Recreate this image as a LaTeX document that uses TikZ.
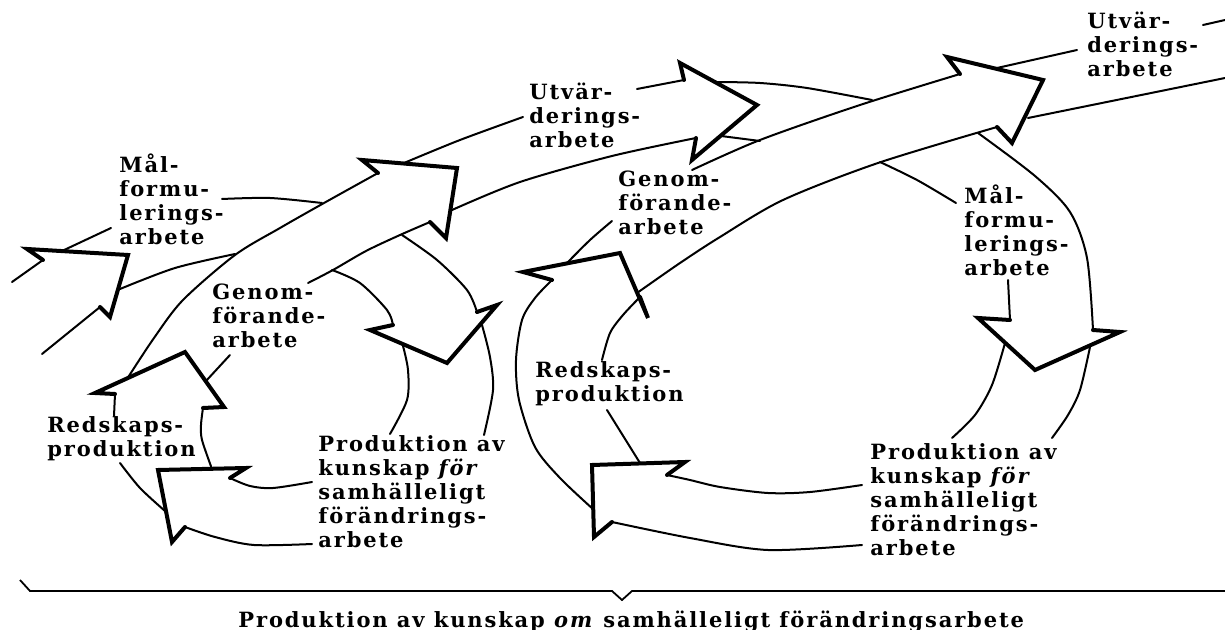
\documentclass[tikz,border=0pt]{standalone}
\usepackage{fontspec}
\newfontfamily\lblfam{DejaVu Serif}[LetterSpace=9]
\newcommand{\lblfont}{\lblfam\bfseries\fontsize{10.5}{12}\selectfont}
\begin{document}
\begin{tikzpicture}[x=0.5pt,y=-0.5pt,
  bl/.style={line width=1pt, line cap=round, line join=round},
  hd/.style={line width=2pt, line cap=round, line join=miter},
  lbl/.style={align=left, inner sep=0pt, anchor=base west, font=\lblfont}]
\useasboundingbox (0,0) rectangle (1225,630);
% ---------------- LEFT LOOP ----------------
% H1
\draw[bl] (12,282) -- (43,260);
\draw[bl] (42,354) -- (100,307);
\draw[hd] (43,260) -- (27,249) -- (128,255) -- (110,317) -- (100,307);
\draw[bl] (62,251) -- (111,228);
\draw[bl] plot[smooth] coordinates {(222,199) (270,198) (322,203)};
\draw[bl] plot[smooth] coordinates {(120,289) (175,268) (235,254)};
% big band H6 -> H2
\draw[bl] plot[smooth] coordinates {(127,379) (154,338) (183,300) (235,255) (280,228) (324,203) (378,173)};
\draw[bl] (206,381) -- (230,355);
\draw[bl] plot[smooth] coordinates {(308,283) (333,270) (366,251) (400,235) (430,222)};
% H2
\draw[hd] (378,173) -- (362,160) -- (457,168) -- (446,238) -- (430,222);
% H2 -> H3
\draw[bl] plot[smooth] coordinates {(404,163) (460,140) (523,117)};
\draw[bl] (637,89) -- (684,80);
\draw[bl] plot[smooth] coordinates {(452,210) (520,182) (612,156) (696,138)};
% H3
\draw[hd] (684,80) -- (680,63) -- (757,105) -- (692,160) -- (696,138);
\draw[bl] plot[smooth] coordinates {(716,82) (760,83) (807,88) (872,100)};
\draw[bl] (721,136) -- (760,141);
% H5 band
\draw[bl] plot[smooth] coordinates {(332,270) (360,283) (387,310) (393,325)};
\draw[bl] plot[smooth] coordinates {(402,235) (437,260) (467,290) (477,312)};
\draw[hd] (393,325) -- (370,330) -- (447,363) -- (497,305) -- (477,312);
\draw[bl] plot[smooth] coordinates {(403,346) (408,370) (407,400) (390,434)};
\draw[bl] plot[smooth] coordinates {(482,325) (490,357) (493,390) (484,435)};
% bottom of left loop
\draw[bl] plot[smooth] coordinates {(312,482) (273,488) (250,486) (230,478)};
\draw[bl] plot[smooth] coordinates {(312,544) (254,545) (215,537) (185,527)};
\draw[hd] (230,478) -- (246,468) -- (158,470) -- (172,542) -- (185,527);
\draw[bl] plot[smooth] coordinates {(165,511) (140,488) (120,463)};
\draw[bl] plot[smooth] coordinates {(212,469) (202,440) (201,425) (203,408)};
\draw[bl] (114,416) -- (115,394);
\draw[hd] (115,394) -- (95,393) -- (185,352) -- (224,407) -- (203,408);
% ---------------- RIGHT LOOP ----------------
\draw[bl] plot[smooth] coordinates {(567,263) (590,240) (612,221)};
\draw[bl] plot[smooth] coordinates {(692,170) (760,140) (860,105) (960,74)};
\draw[bl] plot[smooth] coordinates {(637,293) (680,263) (720,237) (783,200) (878,163) (997,127)};
\draw[hd] (960,74) -- (947,57) -- (1043,80) -- (1012,143) -- (997,127);
\draw[bl] (997,68) -- (1077,50);
\draw[bl] (1203,25) -- (1225,20);
\draw[bl] (1028,118) -- (1225,78);
% right side
\draw[bl] plot[smooth] coordinates {(978,133) (1035,176) (1070,212) (1087,258) (1093,330)};
\draw[bl] plot[smooth] coordinates {(880,162) (917,180) (956,203)};
\draw[bl] (1008,280) -- (1010,320);
\draw[hd] (1010,320) -- (978,318) -- (1035,370) -- (1120,332) -- (1093,330);
\draw[bl] plot[smooth] coordinates {(1005,343) (992,385) (975,415) (952,438)};
\draw[bl] plot[smooth] coordinates {(1090,347) (1080,390) (1068,415) (1052,438)};
% bottom of right loop
\draw[bl] plot[smooth] coordinates {(862,485) (810,492) (768,493) (720,487) (690,480) (667,475)};
\draw[bl] plot[smooth] coordinates {(862,545) (768,550) (690,538) (612,522)};
\draw[hd] (667,475) -- (685,462) -- (592,465) -- (594,537) -- (612,522);
\draw[bl] plot[smooth] coordinates {(594,510) (560,478) (535,447) (519,400) (516,360) (522,320) (535,298) (552,280)};
\draw[bl] (640,463) -- (607,410);
\draw[bl] plot[smooth] coordinates {(602,360) (610,333) (623,315) (640,297)};
\draw[hd] (552,280) -- (523,272) -- (620,253) -- (648,318) -- (640,297);
% brace
\draw[line width=0.9pt, line join=miter] (20,580) -- (30,591) -- (612,591) -- (622,600) -- (632,591) -- (1225,591);
% ---------------- LABELS (anchored at the baseline of the last line) ----------------
\node[lbl] (malL) at (119,245) {Mål-\\formu-\\lerings-\\arbete};
\node[lbl] (utvL) at (529,148) {Utvär-\\derings-\\arbete};
\node[lbl] (genL) at (212,348) {Genom-\\förande-\\arbete};
\node[lbl] (redL) at (47,456) {Redskaps-\\produktion};
\node[lbl] (proL) at (318,547) {Produktion av\\kunskap \textit{för}\\samhälleligt\\förändrings-\\arbete};
\node[lbl] (utvR) at (1087,77) {Utvär-\\derings-\\arbete};
\node[lbl] (genR) at (618,235) {Genom-\\förande-\\arbete};
\node[lbl] (malR) at (964,276) {Mål-\\formu-\\lerings-\\arbete};
\node[lbl] (redR) at (535,401) {Redskaps-\\produktion};
\node[lbl] (proR) at (870,555) {Produktion av\\kunskap \textit{för}\\samhälleligt\\förändrings-\\arbete};
\node[lbl] (bottom) at (238,627) {Produktion av kunskap \textit{om} samhälleligt förändringsarbete};
\end{tikzpicture}
\end{document}
